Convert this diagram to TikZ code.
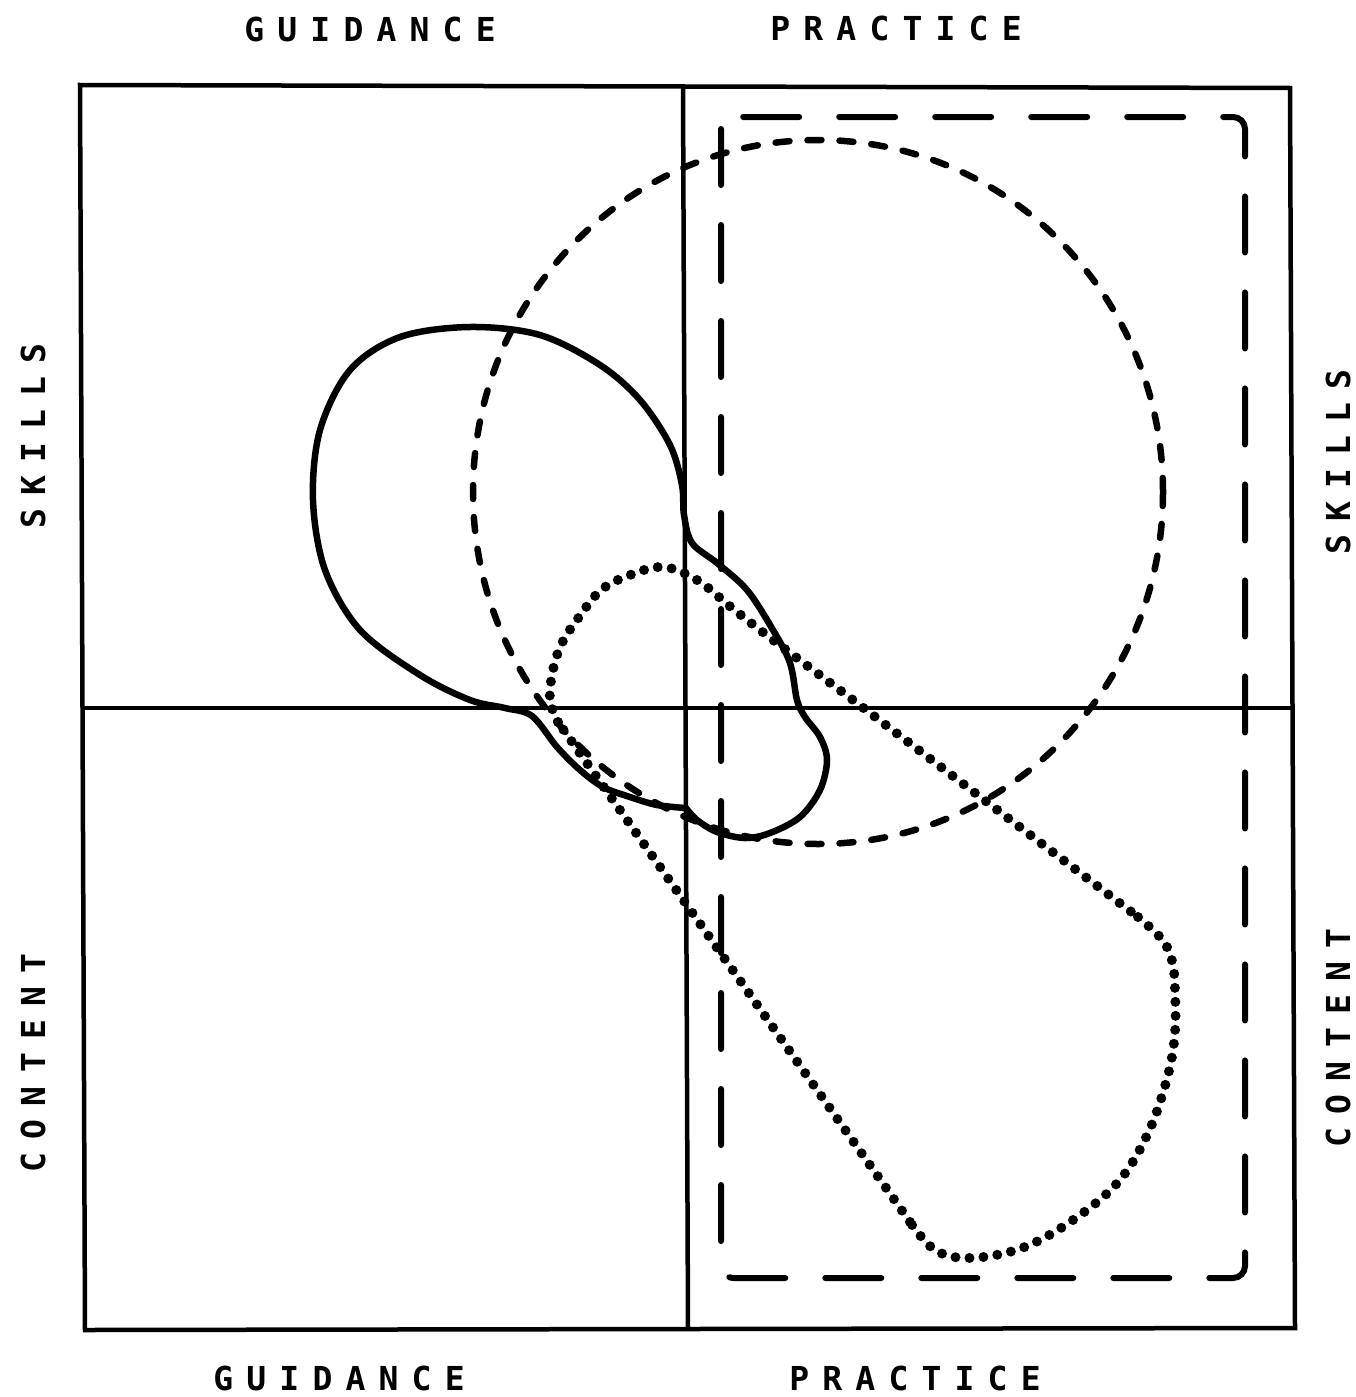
\documentclass[tikz,border=0pt]{standalone}
\usepackage{fontspec}
\newfontfamily\lblfont{DejaVu Sans Mono}[LetterSpace=40]
\begin{document}
\begin{tikzpicture}[x=1pt,y=-1pt,
  frame/.style={line width=4.5pt, line join=miter},
  blob/.style={line width=6.5pt, line join=round, line cap=round},
  dashcirc/.style={line width=6.5pt, line cap=round, dash pattern=on 14pt off 18pt},
  dashrect/.style={line width=6pt, line cap=round, dash pattern=on 56pt off 40pt, rounded corners=12pt},
  dotline/.style={line width=10pt, line cap=round, dash pattern=on 0pt off 14pt},
  lbl/.style={font=\lblfont\bfseries\fontsize{33}{33}\selectfont, inner sep=0pt}]
\useasboundingbox (0,0) rectangle (1356,1397);
\fill[white] (0,0) rectangle (1356,1397);
% frame and quadrants
\draw[frame] (80,85) -- (1290,88) -- (1295,1328) -- (85,1330) -- cycle;
\draw[frame] (683,87) -- (688,1329);
\draw[frame] (83,708) -- (1292,708);
% dashed rectangle (practice)
\draw[dashrect] (721,117) rectangle (1245,1278);
% dashed circle
\draw[dashcirc] (818,492) ellipse [x radius=345, y radius=352];
% solid blob
\draw[blob] plot[smooth, tension=0.55] coordinates {
 (686,808) (697,820) (717,832) (745,838) (770,833) (800,817) (820,790) (827,760)
 (820,737) (805,717) (797,700) (790,663) (773,630) (747,590) (717,563) (692,543)
 (684,515) (682,485) (670,445) (640,400) (600,365) (540,335) (470,327) (400,337)
 (350,370) (320,430) (313,500) (325,570) (360,630) (420,675) (470,700) (505,708)
 (532,716) (557,747) (580,770) (603,787) (630,797) (657,805) (686,808)};
% dotted shape
\draw[dotline] (910,1222) -- (558,722)
  plot[smooth, tension=0.6] coordinates {(558,722) (550,700) (553,670) (562,643) (579,617) (600,591) (625,577) (662,567) (697,580) (732,608) (773,640) (817,673) (849,697)}
  -- (1138,917)
  plot[smooth, tension=0.6] coordinates {(1138,917) (1155,932) (1166,945) (1173,965) (1175,990) (1175,1032) (1168,1075) (1149,1131) (1119,1181) (1073,1220) (1022,1248) (970,1258) (935,1250) (910,1222)};
% labels
\node[lbl] (gtop) at (370,29) {GUIDANCE};
\node[lbl] (ptop) at (896,28) {PRACTICE};
\node[lbl] (gbot) at (339,1378) {GUIDANCE};
\node[lbl] (pbot) at (915,1378) {PRACTICE};
\node[lbl, rotate=90] (sl) at (33,436) {SKILLS};
\node[lbl, rotate=90] (cl) at (33,1063) {CONTENT};
\node[lbl, rotate=90] (sr) at (1338,462) {SKILLS};
\node[lbl, rotate=90] (cr) at (1338,1038) {CONTENT};
\end{tikzpicture}
\end{document}
